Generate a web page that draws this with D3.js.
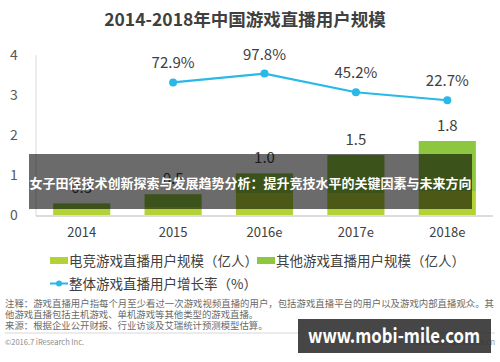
<!DOCTYPE html>
<html><head><meta charset="utf-8">
<script src="https://cdn.jsdelivr.net/npm/d3@7"></script>
<style>body{margin:0;background:#fff}svg{display:block}text{font-family:"Noto Sans CJK SC","Noto Sans",sans-serif}</style>
</head><body>
<script>
const categories = ["2014","2015","2016e","2017e","2018e"];
const esportsUsers = [0.15,0.20,0.55,0.55,0.60];
const otherUsers = [0.14,0.32,0.49,0.95,1.25];
const totalLabels = ["0.3","0.5","1.0","1.5","1.8"];
const growthRate = [null,72.9,97.8,45.2,22.7];
const yTicks = [0,1,2,3,4];
const title = "2014-2018年中国游戏直播用户规模";
const legendLabels = ["电竞游戏直播用户规模（亿人）","其他游戏直播用户规模（亿人）","整体游戏直播用户增长率（%）"];
const notes = ["注释：游戏直播用户指每个月至少看过一次游戏视频直播的用户，包括游戏直播平台的用户以及游戏内部直播观众。其","他游戏直播包括主机游戏、单机游戏等其他类型的游戏直播。","来源：根据企业公开财报、行业访谈及艾瑞统计预测模型估算。"];
const overlayText = "女子田径技术创新探索与发展趋势分析：提升竞技水平的关键因素与未来方向";
const watermark = "www.mobi-mile.com";

const W=500,H=362;
const svg=d3.select("body").append("svg").attr("width",W).attr("height",H);
const cE="#b2d235", cO="#8dc63f", cL="#29b8e8", txt="#404040";

svg.append("text").attr("x",245).attr("y",26).attr("text-anchor","middle")
  .attr("font-size",17.5).attr("font-weight","bold").attr("fill",txt).text(title);

const x=d3.scaleBand().domain(categories).range([36,493]).paddingInner(0.375).paddingOuter(0.1875);
const y=d3.scaleLinear().domain([0,4]).range([215,55]);
const y2=d3.scaleLinear().domain([-300,150]).range([215,55]);

// axes
svg.append("line").attr("x1",36).attr("x2",36).attr("y1",55).attr("y2",216).attr("stroke","#d9d9d9").attr("stroke-width",1);
const yAxis=svg.append("g").attr("transform","translate(20,0)")
  .call(d3.axisLeft(y).tickValues(yTicks).tickSize(0).tickPadding(0).tickFormat(d3.format("d")));
yAxis.select(".domain").remove();
yAxis.selectAll("text").attr("font-size",14).attr("fill","#595959").attr("text-anchor","middle").attr("x",-6);

const xAxis=svg.append("g").attr("transform","translate(0,216)")
  .call(d3.axisBottom(x).tickSize(0).tickPadding(12));
xAxis.select(".domain").attr("stroke","#d0d0d0").attr("stroke-width",1.5).attr("d","M36,0H493");
xAxis.selectAll("text").attr("font-size",13).attr("fill",txt);

// stacked bars
const rows=categories.map((c,i)=>({c,e:esportsUsers[i],o:otherUsers[i]}));
const stack=d3.stack().keys(["e","o"])(rows);
const colors={e:cE,o:cO};
svg.append("g").selectAll("g").data(stack).join("g").attr("fill",s=>colors[s.key])
  .selectAll("rect").data(s=>s).join("rect")
  .attr("x",d=>x(d.data.c)).attr("width",x.bandwidth())
  .attr("y",d=>y(d[1])).attr("height",d=>y(d[0])-y(d[1]));

svg.append("g").selectAll("text").data(rows).join("text")
  .attr("x",d=>x(d.c)+x.bandwidth()/2).attr("y",d=>y(d.e+d.o)-10)
  .attr("text-anchor","middle").attr("font-size",15).attr("fill",txt)
  .text((d,i)=>totalLabels[i]);

// line
const pts=categories.map((c,i)=>({c,v:growthRate[i]})).filter(d=>d.v!=null);
svg.append("path").datum(pts).attr("fill","none").attr("stroke",cL).attr("stroke-width",2.2)
  .attr("d",d3.line().x(d=>x(d.c)+x.bandwidth()/2).y(d=>y2(d.v)));
svg.append("g").selectAll("circle").data(pts).join("circle")
  .attr("cx",d=>x(d.c)+x.bandwidth()/2).attr("cy",d=>y2(d.v)).attr("r",4).attr("fill",cL);
svg.append("g").selectAll("text").data(pts).join("text")
  .attr("x",d=>x(d.c)+x.bandwidth()/2).attr("y",d=>y2(d.v)-14)
  .attr("text-anchor","middle").attr("font-size",15).attr("fill",txt)
  .text(d=>d.v.toFixed(1)+"%");

// legend
const lg=svg.append("g").attr("font-size",13.5).attr("fill",txt);
lg.append("rect").attr("x",50).attr("y",257).attr("width",18).attr("height",7).attr("fill",cE);
lg.append("text").attr("x",69).attr("y",265.5).attr("fill",txt).text(legendLabels[0]);
lg.append("rect").attr("x",257).attr("y",257).attr("width",18).attr("height",7).attr("fill",cO);
lg.append("text").attr("x",276).attr("y",265.5).attr("fill",txt).text(legendLabels[1]);
lg.append("line").attr("x1",50).attr("x2",68).attr("y1",283.5).attr("y2",283.5).attr("stroke",cL).attr("stroke-width",2);
lg.append("circle").attr("cx",59).attr("cy",283.5).attr("r",3).attr("fill",cL);
lg.append("text").attr("x",69).attr("y",288.5).attr("fill",txt).text(legendLabels[2]);

// notes
const noteY=[306.5,318,329], noteLen=[489,null,null];
svg.append("g").selectAll("text").data(notes).join("text")
  .attr("x",5).attr("y",(d,i)=>noteY[i]).attr("font-size",9.4).attr("fill","#6a6a6a")
  .each(function(d,i){ if(noteLen[i]) d3.select(this).attr("textLength",noteLen[i]).attr("lengthAdjust","spacing"); })
  .text(d=>d);
svg.append("line").attr("x1",5).attr("x2",495).attr("y1",333).attr("y2",333).attr("stroke","#d8d8d8");
svg.append("text").attr("x",5).attr("y",345).attr("font-size",7.5).attr("fill","#8a8a8a").attr("font-family","Liberation Sans, Arial").text("©2016.7 iResearch Inc.");
svg.append("text").attr("x",495).attr("y",345).attr("text-anchor","end").attr("font-size",7.5).attr("fill","#8a8a8a").attr("font-family","Liberation Sans, Arial").text("www.iresearch.com.cn");

// overlay banner
svg.append("rect").attr("x",29).attr("y",154).attr("width",443).attr("height",55).attr("fill","rgba(0,0,0,0.58)");
svg.append("text").attr("x",250.5).attr("y",188).attr("text-anchor","middle").attr("font-size",13).attr("font-weight","bold").attr("fill","#fff").text(overlayText);

// watermark
svg.append("rect").attr("x",298).attr("y",319).attr("width",193).attr("height",34).attr("fill","rgba(50,50,50,0.9)");
svg.append("text").attr("x",308).attr("y",343).attr("font-size",20).attr("font-weight","bold").attr("fill","#fff")
  .attr("font-family","DejaVu Sans, sans-serif").attr("textLength",172).attr("lengthAdjust","spacingAndGlyphs").text(watermark);
</script>
</body></html>
